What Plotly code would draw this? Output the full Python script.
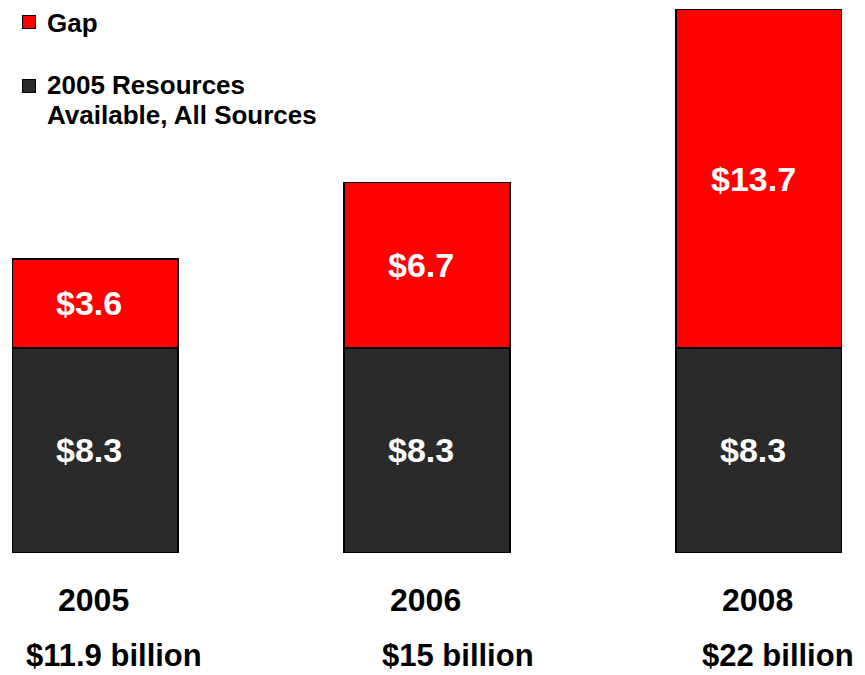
import plotly.graph_objects as go

years = ["2005", "2006", "2008"]
resources = [8.3, 8.3, 8.3]
gap = [3.6, 6.7, 13.7]
totals = ["$11.9 billion", "$15 billion", "$22 billion"]
total_shift = [19, 31, 19]
legend_names = ["Gap", "2005 Resources", "Available, All Sources"]
RED = "#ff0000"
DARK = "#2a2a2a"

FONT = "Liberation Sans, Arial, sans-serif"

fig = go.Figure()
fig.add_trace(go.Bar(
    x=list(range(len(years))), y=resources, name=legend_names[1],
    marker=dict(color=DARK, line=dict(color="#000000", width=1.5)),
))
fig.add_trace(go.Bar(
    x=list(range(len(years))), y=gap, name=legend_names[0],
    marker=dict(color=RED, line=dict(color="#000000", width=1.5)),
))

lab_font = dict(family=FONT, size=34, color="white", weight="bold")
for i, y in enumerate(years):
    # value labels, centred in each segment
    fig.add_annotation(x=i, y=resources[i] / 2, xshift=-6, text=f"${resources[i]}",
                       xanchor="center", yanchor="middle",
                       showarrow=False, font=lab_font)
    fig.add_annotation(x=i, y=resources[i] + gap[i] / 2, xshift=-6, text=f"${gap[i]}",
                       xanchor="center", yanchor="middle",
                       showarrow=False, font=lab_font)
    # category labels
    fig.add_annotation(x=i, y=0, xanchor="center", yanchor="middle", yshift=-47, xshift=-2,
                       text=y, showarrow=False,
                       font=dict(family=FONT, size=32, color="black", weight="bold"))
    fig.add_annotation(x=i, y=0, xanchor="center", yanchor="middle", yshift=-102,
                       xshift=total_shift[i], borderpad=0,
                       text=totals[i], showarrow=False,
                       font=dict(family=FONT, size=31, color="black", weight="bold"))

# legend (manual)
leg_font = dict(family=FONT, size=26, color="black", weight="bold")
for yy, col in [(0.9743, RED), (0.8569, DARK)]:
    fig.add_annotation(xref="paper", yref="paper", x=0.0205, y=yy, text="",
                       xanchor="center", yanchor="middle",
                       showarrow=False, width=12, height=12, bgcolor=col,
                       bordercolor="black", borderwidth=1, borderpad=0)
for yy, name in [(0.9725, legend_names[0]), (0.8587, legend_names[1]),
                 (0.8037, legend_names[2])]:
    fig.add_annotation(xref="paper", yref="paper", x=0.0405, y=yy,
                       xanchor="left", yanchor="middle", borderpad=0,
                       text=name, showarrow=False, font=leg_font)

fig.update_layout(
    width=865, height=675,
    margin=dict(l=4, r=31, t=0, b=130, autoexpand=False),
    barmode="stack", bargap=0.5,
    plot_bgcolor="white", paper_bgcolor="white",
    showlegend=False,
    xaxis=dict(range=[-0.25, 2.25], visible=False),
    yaxis=dict(range=[0, 22.06], visible=False),
)

fig.write_html("out.html")
